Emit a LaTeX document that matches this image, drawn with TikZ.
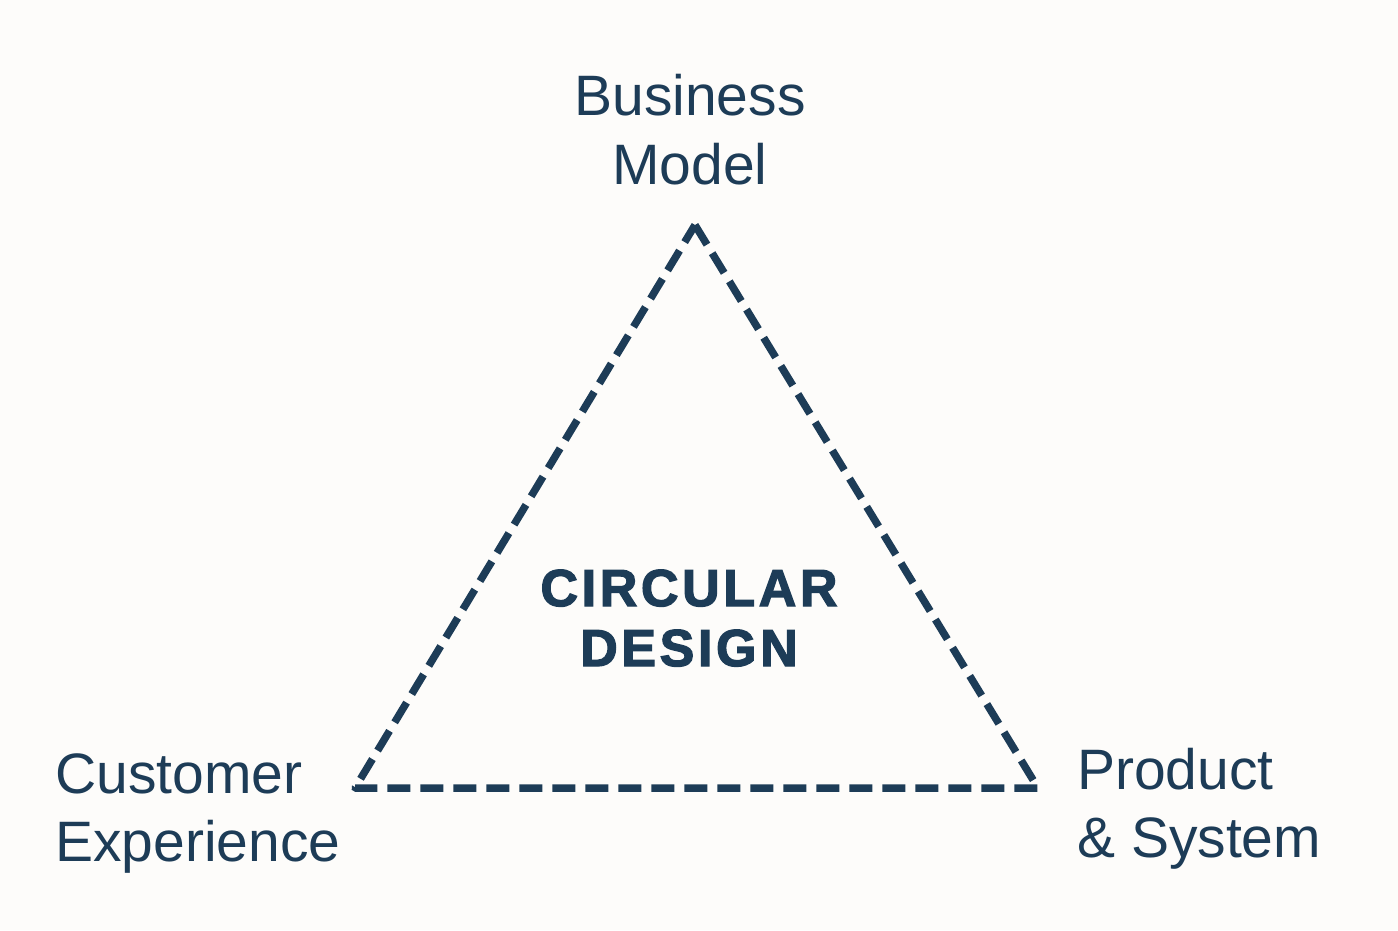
\documentclass[tikz,border=0pt]{standalone}
\usepackage{fontspec}
\setmainfont{Liberation Sans}
\newfontfamily\boldspaced[LetterSpace=7,FakeBold=2.5]{Liberation Sans}
\definecolor{navy}{HTML}{1D3C57}
\definecolor{paper}{HTML}{FDFCFA}
\tikzset{
  edge/.style={draw=navy, line width=7.5pt, dash pattern=on 23pt off 10pt, line join=round},
  label/.style={text=navy, inner sep=0pt, font=\fontsize{57}{68}\selectfont},
  core/.style={text=navy, inner sep=0pt, align=center, font=\boldspaced\bfseries\fontsize{52}{60}\selectfont}
}
\begin{document}
\begin{tikzpicture}[x=1pt,y=-1pt]
\fill[paper] (0,0) rectangle (1398,930);
\useasboundingbox (0,0) rectangle (1398,930);
\coordinate (T) at (695,225);
\coordinate (L) at (355,788);
\coordinate (R) at (1038,788);
\draw[edge] (T) -- (R) -- (L) -- cycle;
\node[label, align=center, anchor=base] (bm) at (690,184) {Business\\[1pt]Model};
\node[label, align=left, anchor=base west] (ce) at (55,861) {Customer\\Experience};
\node[label, align=left, anchor=base west] (ps) at (1077,857) {Product\\\& System};
\node[core, anchor=base] (cd) at (689,666) {CIRCULAR\\DESIGN};
\end{tikzpicture}
\end{document}
